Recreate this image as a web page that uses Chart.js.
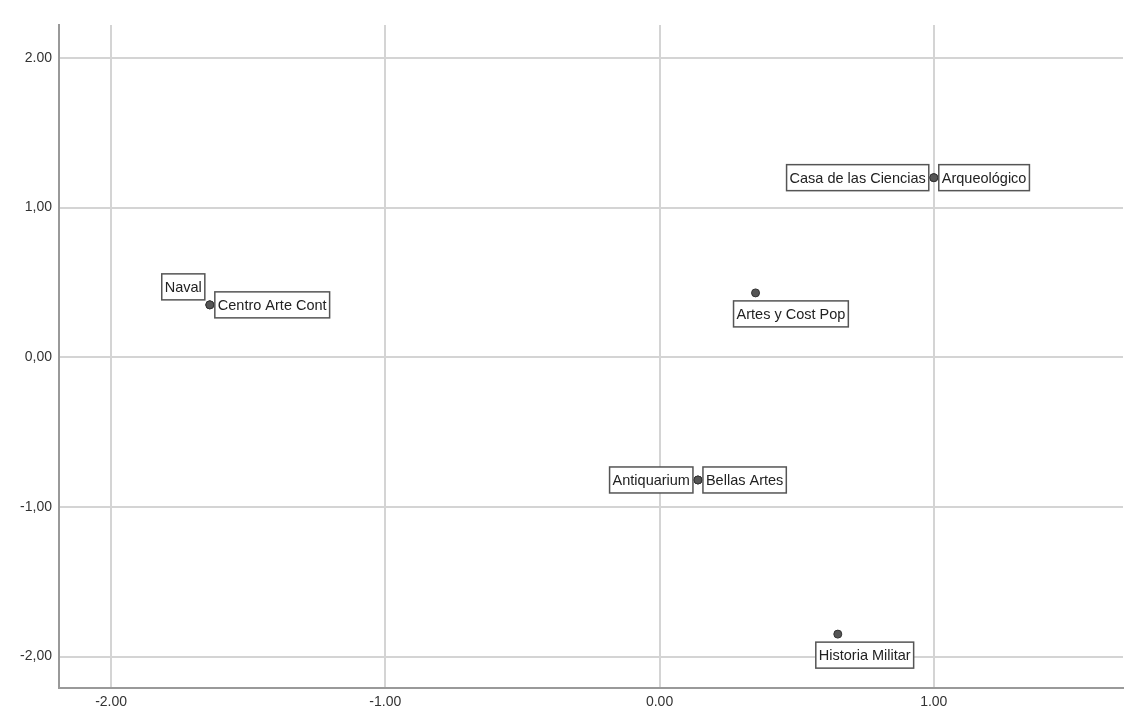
<!DOCTYPE html>
<html>
<head>
<meta charset="utf-8">
<script src="https://cdn.jsdelivr.net/npm/chart.js@4"></script>
<style>
  html, body { margin: 0; padding: 0; background: #fff; }
  #wrap { width: 1144px; height: 728px; }
</style>
</head>
<body>
<div id="wrap"><canvas id="myChart" width="1144" height="728"></canvas></div>
<script>

const museums = [
    'Naval',
    'Centro Arte Cont',
    'Casa de las Ciencias',
    'Arqueológico',
    'Artes y Cost Pop',
    'Antiquarium',
    'Bellas Artes',
    'Historia Militar',
];
const xValues = [-1.64, -1.64, 1.00, 1.00, 0.35, 0.14, 0.14, 0.65];
const yValues = [0.35, 0.35, 1.20, 1.20, 0.43, -0.82, -0.82, -1.85];

const xTickValues = [-2, -1, 0, 1];
const xTickLabels = ['-2.00', '-1.00', '0.00', '1.00'];
const yTickValues = [-2, -1, 0, 1, 2];
const yTickLabels = ['-2,00', '-1,00', '0,00', '1,00', '2.00'];

// where each label box sits around its point
const placement = ['aboveLeft', 'right', 'left', 'right', 'below', 'left', 'right', 'below'];

const labelBoxes = {
    id: 'labelBoxes',
    afterDatasetsDraw(chart) {
        const ctx = chart.ctx;
        const xs = chart.scales.x, ys = chart.scales.y;
        ctx.save();
        ctx.font = '14.5px "Liberation Sans", Arial, sans-serif';
        ctx.textBaseline = 'middle';
        museums.forEach((name, i) => {
            const px = xs.getPixelForValue(xValues[i]);
            const py = ys.getPixelForValue(yValues[i]);
            const w = ctx.measureText(name).width + 6;
            const h = 26;
            let bx, by;
            switch (placement[i]) {
                case 'right': bx = px + 5; by = py - h / 2; break;
                case 'left': bx = px - 5 - w; by = py - h / 2; break;
                case 'below': bx = px - 22; by = py + 8; break;
                default: bx = px - 5 - w; by = py - 31;
            }
            ctx.fillStyle = '#fff';
            ctx.fillRect(bx, by, w, h);
            ctx.strokeStyle = '#555';
            ctx.lineWidth = 1.5;
            ctx.strokeRect(bx, by, w, h);
            ctx.fillStyle = '#222';
            ctx.fillText(name, bx + 3, by + h / 2 + 1);
        });
        ctx.restore();
    }
};

const data = {
    datasets: [{
        label: 'Museos',
        data: xValues.map((x, i) => ({ x: x, y: yValues[i] })),
        pointRadius: 4,
        pointBackgroundColor: '#555',
        pointBorderColor: '#333',
        pointBorderWidth: 1,
        showLine: false,
    }]
};

const options = {
    responsive: false,
    animation: false,
    layout: {
        padding: { top: 25, right: 21, left: 0, bottom: 0 }
    },
    plugins: {
        legend: { display: false },
        tooltip: { enabled: false },
    },
    scales: {
        x: {
            type: 'linear',
            min: -2.19,
            max: 1.69,
            afterBuildTicks: (axis) => { axis.ticks = xTickValues.map(v => ({ value: v })); },
            afterFit: (axis) => { axis.height = 40; },
            ticks: {
                callback: (v) => xTickLabels[xTickValues.indexOf(v)],
                color: '#333',
                font: { family: '"Liberation Sans", Arial, sans-serif', size: 14 },
                padding: 6,
                maxRotation: 0,
            },
            grid: { color: '#d4d4d4', lineWidth: 2, drawTicks: false },
            border: { color: '#999', width: 2 },
        },
        y: {
            type: 'linear',
            min: -2.21,
            max: 2.22,
            afterBuildTicks: (axis) => { axis.ticks = yTickValues.map(v => ({ value: v })); },
            afterFit: (axis) => { axis.width = 59; },
            ticks: {
                callback: (v) => yTickLabels[yTickValues.indexOf(v)],
                color: '#333',
                font: { family: '"Liberation Sans", Arial, sans-serif', size: 14 },
                padding: 7,
            },
            grid: { color: '#d4d4d4', lineWidth: 2, drawTicks: false },
            border: { color: '#999', width: 2 },
        }
    }
};

const myChart = new Chart(
    document.getElementById('myChart'),
    { type: 'scatter', data: data, options: options, plugins: [labelBoxes] }
);

</script>
</body>
</html>
